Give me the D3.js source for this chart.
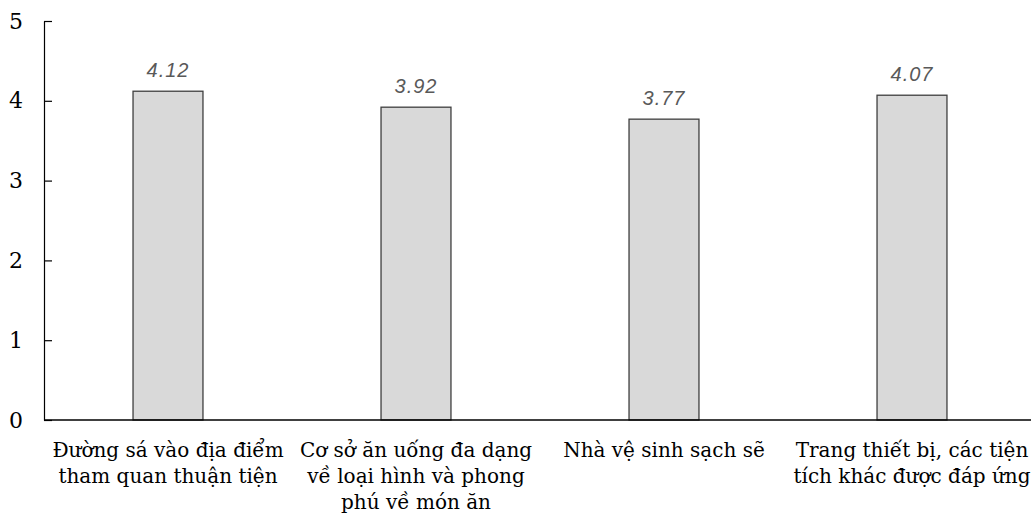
<!DOCTYPE html>
<html>
<head>
<meta charset="utf-8">
<script src="https://cdn.jsdelivr.net/npm/d3@7"></script>
<style>
  html, body { margin: 0; padding: 0; background: #fff; }
  svg { display: block; }
</style>
</head>
<body>
<svg id="chart" width="1031" height="513"></svg>
<script>
// Category labels, one array of lines per category
const categories = [
  ["Đường sá vào địa điểm", "tham quan thuận tiện"],
  ["Cơ sở ăn uống đa dạng", "về loại hình và phong", "phú về món ăn"],
  ["Nhà vệ sinh sạch sẽ"],
  ["Trang thiết bị, các tiện", "tích khác được đáp ứng"]
];
const scores = [4.12, 3.92, 3.77, 4.07];
const yTicks = [0, 1, 2, 3, 4, 5];

const serifFont = "DejaVu Serif";
const svg = d3.select("#chart");
const plotLeft = 44, plotRight = 1036, plotTop = 21, plotBottom = 420;

const x = d3.scaleBand()
  .domain(d3.range(categories.length))
  .range([plotLeft, plotRight])
  .paddingInner(0.718)
  .paddingOuter(0.359);

const y = d3.scaleLinear().domain([0, 5]).range([plotBottom, plotTop]);

// Y axis with ticks pointing into the plot
const yAxis = d3.axisLeft(y)
  .tickValues(yTicks)
  .tickFormat(d3.format("d"))
  .tickSizeInner(-8)
  .tickSizeOuter(0)
  .tickPadding(21);

const gy = svg.append("g")
  .attr("transform", `translate(${plotLeft},0)`)
  .call(yAxis)
  .attr("font-family", null)
  .attr("font-size", null);
gy.select(".domain").attr("stroke", "#000").attr("stroke-width", 1.2);
gy.selectAll(".tick line").attr("stroke", "#000").attr("stroke-width", 1.2);
gy.selectAll(".tick text")
  .attr("font-family", serifFont)
  .attr("fill", "#000")
  .attr("font-size", 22);

// Bars
svg.append("g").selectAll("rect")
  .data(scores)
  .join("rect")
  .attr("x", (d, i) => x(i))
  .attr("y", d => y(d))
  .attr("width", x.bandwidth())
  .attr("height", d => y(0) - y(d))
  .attr("fill", "#d9d9d9")
  .attr("stroke", "#3f3f3f")
  .attr("stroke-width", 1.3);

// X axis baseline
svg.append("line")
  .attr("x1", plotLeft).attr("x2", 1031)
  .attr("y1", y(0)).attr("y2", y(0))
  .attr("stroke", "#000").attr("stroke-width", 1.3);

// Value labels
svg.append("g").selectAll("text")
  .data(scores)
  .join("text")
  .attr("x", (d, i) => x(i) + x.bandwidth() / 2)
  .attr("y", d => y(d) - 14.5)
  .attr("text-anchor", "middle")
  .attr("fill", "#595959")
  .attr("font-family", "Liberation Sans, Arial, sans-serif")
  .attr("font-style", "italic")
  .attr("font-size", 20)
  .attr("letter-spacing", 1)
  .text(d => d.toFixed(2));

// Category labels
const cat = svg.append("g").selectAll("text")
  .data(categories)
  .join("text")
  .attr("font-family", serifFont)
  .attr("text-anchor", "middle")
  .attr("fill", "#000")
  .attr("font-size", 20);
cat.selectAll("tspan")
  .data((d, i) => d.map(line => ({ line, i })))
  .join("tspan")
  .attr("x", d => x(d.i) + x.bandwidth() / 2)
  .attr("y", (d, j) => 457 + j * 26)
  .text(d => d.line);
</script>
</body>
</html>
